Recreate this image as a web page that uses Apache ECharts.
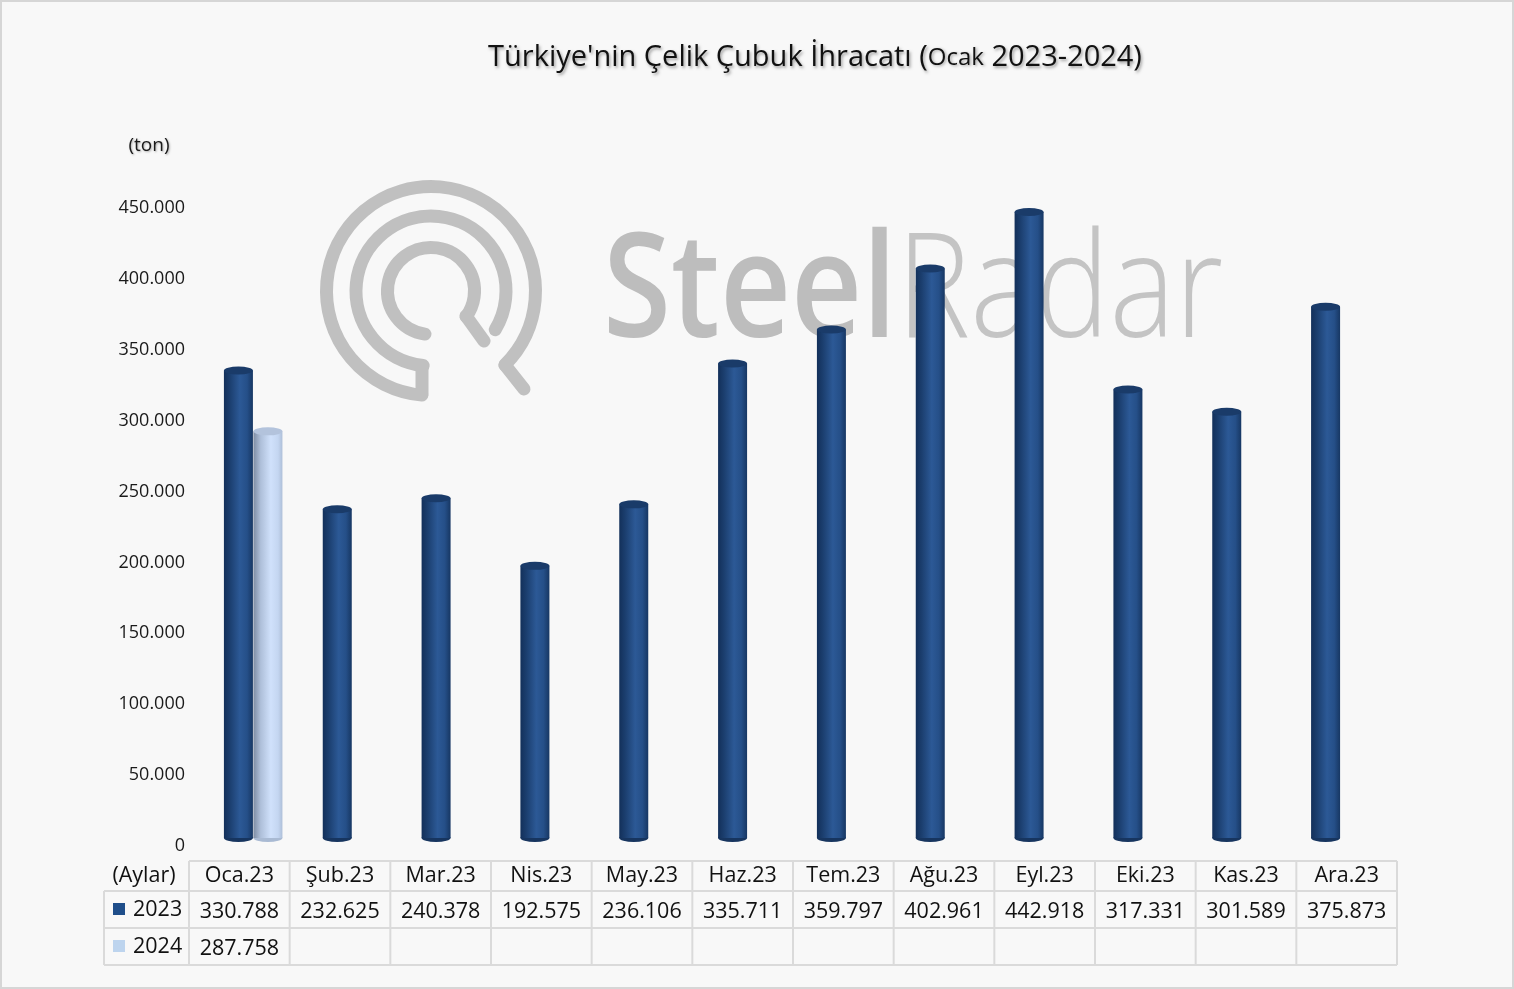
<!DOCTYPE html>
<html><head><meta charset="utf-8">
<script src="https://cdn.jsdelivr.net/npm/echarts@6/dist/echarts.min.js"></script>
<style>html,body{margin:0;padding:0;background:#f8f8f8}#c{width:1514px;height:989px}</style>
</head><body><div id="c"></div>
<script>
// ---- data ----
const months = ['Oca.23','Şub.23','Mar.23','Nis.23','May.23','Haz.23','Tem.23','Ağu.23','Eyl.23','Eki.23','Kas.23','Ara.23'];
const values2023 = [330788,232625,240378,192575,236106,335711,359797,402961,442918,317331,301589,375873];
const values2024 = [287758,null,null,null,null,null,null,null,null,null,null,null];
const seriesNames = ['2023','2024'];
const yMin = 0, yMax = 450000, yStep = 50000;
const titleParts = ["Türkiye'nin Çelik Çubuk İhracatı (", 'Ocak', ' 2023-2024)'];
const unitLabel = '(ton)';
const rowHeader = '(Aylar)';
const watermark = ['Steel','Radar'];

// ---- layout ----
const FONT = 'Open Sans';
const TL = 189, TR = 1397;
const LBL_ZERO_Y = 846, LBL_TOP_Y = 208;   // axis-label scale
const BAR_ZERO_Y = 838, BAR_TOP_Y = 202;   // cylinder scale
const BAR_L = 189, BAR_R = 1375;
const W = 1514, H = 989;
const fmt = v => (v == null ? '\u00a0' : String(v).replace(/\B(?=(\d{3})+(?!\d))/g, '.'));

const chart = echarts.init(document.getElementById('c'), null, {renderer: 'canvas'});

const COL2023 = {
  body: [{offset:0,color:'#13305a'},{offset:0.2,color:'#1b3e6e'},{offset:0.55,color:'#2c5996'},{offset:0.8,color:'#254f88'},{offset:1,color:'#173763'}],
  top: '#1a3b69', bottom: '#17355f'
};
const COL2024 = {
  body: [{offset:0,color:'#7d8ca3'},{offset:0.25,color:'#aebfd9'},{offset:0.6,color:'#d0e1fb'},{offset:0.85,color:'#c4d6f1'},{offset:1,color:'#aebfd8'}],
  top: '#b3c3dc', bottom: '#a9bad3'
};

function cylinder(colors, offset) {
  return function (params, api) {
    const idx = api.value(0), val = api.value(1);
    const top = api.coord([idx, val]);
    const bot = api.coord([idx, 0]);
    const bw = 29, rx = bw / 2, ry = 4;
    const cx = top[0] + offset;
    return {
      type: 'group',
      children: [
        {type: 'circle', x: cx, y: bot[1], scaleY: ry / rx, shape: {cx: 0, cy: 0, r: rx}, style: {fill: colors.bottom}},
        {type: 'rect', shape: {x: cx - rx, y: top[1], width: bw, height: bot[1] - top[1]},
          style: {fill: new echarts.graphic.LinearGradient(0, 0, 1, 0, colors.body)}},
        {type: 'circle', x: cx, y: top[1], scaleY: ry / rx, shape: {cx: 0, cy: 0, r: rx}, style: {fill: colors.top}}
      ]
    };
  };
}

const mc = document.createElement('canvas').getContext('2d');
function tw(text, size, weight) { mc.font = (weight || 400) + ' ' + size + 'px "' + FONT + '"'; return mc.measureText(text).width; }

// table lines
const tableLines = [];
const colW = (TR - TL) / months.length;
const rowsY = [861, 891, 928, 965];
tableLines.push({type:'line', shape:{x1:TL, y1:rowsY[0], x2:TR, y2:rowsY[0]}});
for (let r = 1; r < rowsY.length; r++) tableLines.push({type:'line', shape:{x1:104, y1:rowsY[r], x2:TR, y2:rowsY[r]}});
for (let c = 0; c <= months.length; c++) {
  const x = TL + c * colW;
  tableLines.push({type:'line', shape:{x1:x, y1:rowsY[0], x2:x, y2:rowsY[3]}});
}
tableLines.push({type:'line', shape:{x1:104, y1:rowsY[1], x2:104, y2:rowsY[3]}});
tableLines.forEach(l => { l.style = {stroke:'#dadada', lineWidth:2}; l.z = 1; l.silent = true; });

// watermark
const wmSize = 145;
const wmNatural = tw(watermark[0], wmSize, 600) + tw(watermark[1], wmSize, 300);
const wmScale = 620 / wmNatural;
const LOGO = {cx: 431, cy: 291};
const deg = d => d * Math.PI / 180;
const logoStyle = {stroke: '#c0c0c0', lineWidth: 13, fill: null, lineCap: 'round'};
const logo = [
  {type:'arc', shape:{cx:LOGO.cx, cy:LOGO.cy, r:104.5, startAngle:deg(95), endAngle:deg(405), clockwise:true}},
  {type:'arc', shape:{cx:LOGO.cx, cy:LOGO.cy, r:75, startAngle:deg(96), endAngle:deg(391), clockwise:true}},
  {type:'arc', shape:{cx:LOGO.cx, cy:LOGO.cy, r:43.5, startAngle:deg(98), endAngle:deg(396), clockwise:true}},
  {type:'line', shape:{x1:422, y1:366, x2:422, y2:394}},
  {type:'line', shape:{x1:466, y1:316, x2:484, y2:341}},
  {type:'line', shape:{x1:505, y1:365, x2:524, y2:389}}
];
logo.forEach(g => { g.style = Object.assign({}, logoStyle); g.z = 0; g.silent = true; });

const T_BIG = 29, T_SMALL = 24;
const titleW = tw(titleParts[0], T_BIG, 400) + tw(titleParts[1], T_SMALL, 400) + tw(titleParts[2], T_BIG, 400);
const shadow = {textShadowColor: 'rgba(0,0,0,0.35)', textShadowBlur: 3, textShadowOffsetX: 1.5, textShadowOffsetY: 1.5};

const option = {
  backgroundColor: '#f8f8f8',
  animation: false,
  grid: [
    {left: TL, right: W - TR, top: LBL_TOP_Y, bottom: H - LBL_ZERO_Y, outerBoundsMode: 'none', containLabel: false},
    {left: BAR_L, right: W - BAR_R, top: BAR_TOP_Y, bottom: H - BAR_ZERO_Y, outerBoundsMode: 'none', containLabel: false}
  ],
  xAxis: [
    {type: 'category', gridIndex: 0, data: months,
      axisLine: {show: false}, axisTick: {show: false},
      axisLabel: {interval: 0, margin: 13, fontFamily: FONT, color: '#111',
        formatter: (v, i) => '{h|' + v + '}\n{v|' + fmt(values2023[i]) + '}\n{v|' + fmt(values2024[i]) + '}',
        rich: {h: {fontSize: 21.5, lineHeight: 34, fontFamily: FONT, color: '#111'},
               v: {fontSize: 21.5, lineHeight: 37, fontFamily: FONT, color: '#111'}}}},
    {type: 'category', gridIndex: 1, data: months, show: false}
  ],
  yAxis: [
    {type: 'value', gridIndex: 0, min: yMin, max: yMax, interval: yStep,
      axisLine: {show: false}, axisTick: {show: false}, splitLine: {show: false},
      axisLabel: {margin: 4, fontFamily: FONT, fontSize: 18, color: '#1a1a1a', formatter: v => fmt(v)}},
    {type: 'value', gridIndex: 1, min: yMin, max: yMax, interval: yStep, show: false, splitLine: {show: false}}
  ],
  series: [
    {type: 'custom', name: seriesNames[0], xAxisIndex: 1, yAxisIndex: 1, z: 5,
      renderItem: cylinder(COL2023, 0), encode: {x: 0, y: 1},
      data: values2023.map((v, i) => [i, v])},
    {type: 'custom', name: seriesNames[1], xAxisIndex: 1, yAxisIndex: 1, z: 6,
      renderItem: cylinder(COL2024, 29.5), encode: {x: 0, y: 1},
      data: values2024.map((v, i) => [i, v]).filter(d => d[1] != null)}
  ],
  graphic: [
    {type: 'rect', shape: {x: 1, y: 1, width: W - 2, height: H - 2}, style: {fill: null, stroke: '#d6d6d6', lineWidth: 2}, z: 0, silent: true},
    ...logo,
    {type: 'text', x: 603, y: 376, z: 0, silent: true, scaleX: wmScale, originX: 0, originY: 0,
      style: {text: '{a|' + watermark[0] + '}{b|' + watermark[1] + '}', verticalAlign: 'bottom',
        rich: {a: {fontFamily: FONT, fontSize: wmSize, fontWeight: 600, fill: '#bdbdbd', lineHeight: 160},
               b: {fontFamily: FONT, fontSize: wmSize, fontWeight: 300, fill: '#c4c4c4', lineHeight: 160}}}},
    {type: 'text', x: 815 - titleW / 2, y: 58, z: 10,
      style: {text: '{a|' + titleParts[0] + '}{b|' + titleParts[1] + '}{a|' + titleParts[2] + '}', verticalAlign: 'middle',
        rich: {a: Object.assign({fontFamily: FONT, fontSize: T_BIG, fill: '#111'}, shadow),
               b: Object.assign({fontFamily: FONT, fontSize: T_SMALL, fill: '#111'}, shadow)}}},
    {type: 'text', x: 149, y: 146, z: 10,
      style: {text: unitLabel, fontFamily: FONT, fontSize: 19, fill: '#1a1a1a', align: 'center', verticalAlign: 'middle',
        textShadowColor: 'rgba(0,0,0,0.3)', textShadowBlur: 2, textShadowOffsetX: 1, textShadowOffsetY: 1}},
    ...tableLines,
    {type: 'text', x: 144, y: 876, z: 10, style: {text: rowHeader, fontFamily: FONT, fontSize: 21.5, fill: '#111', align: 'center', verticalAlign: 'middle'}},
    {type: 'rect', shape: {x: 113, y: 903, width: 12, height: 12}, style: {fill: '#1f4e8a'}, z: 10},
    {type: 'text', x: 133, y: 910, z: 10, style: {text: seriesNames[0], fontFamily: FONT, fontSize: 21.5, fill: '#111', align: 'left', verticalAlign: 'middle'}},
    {type: 'rect', shape: {x: 113, y: 940, width: 12, height: 12}, style: {fill: '#bdd4ee'}, z: 10},
    {type: 'text', x: 133, y: 947, z: 10, style: {text: seriesNames[1], fontFamily: FONT, fontSize: 21.5, fill: '#111', align: 'left', verticalAlign: 'middle'}}
  ]
};
chart.setOption(option);
</script></body></html>
